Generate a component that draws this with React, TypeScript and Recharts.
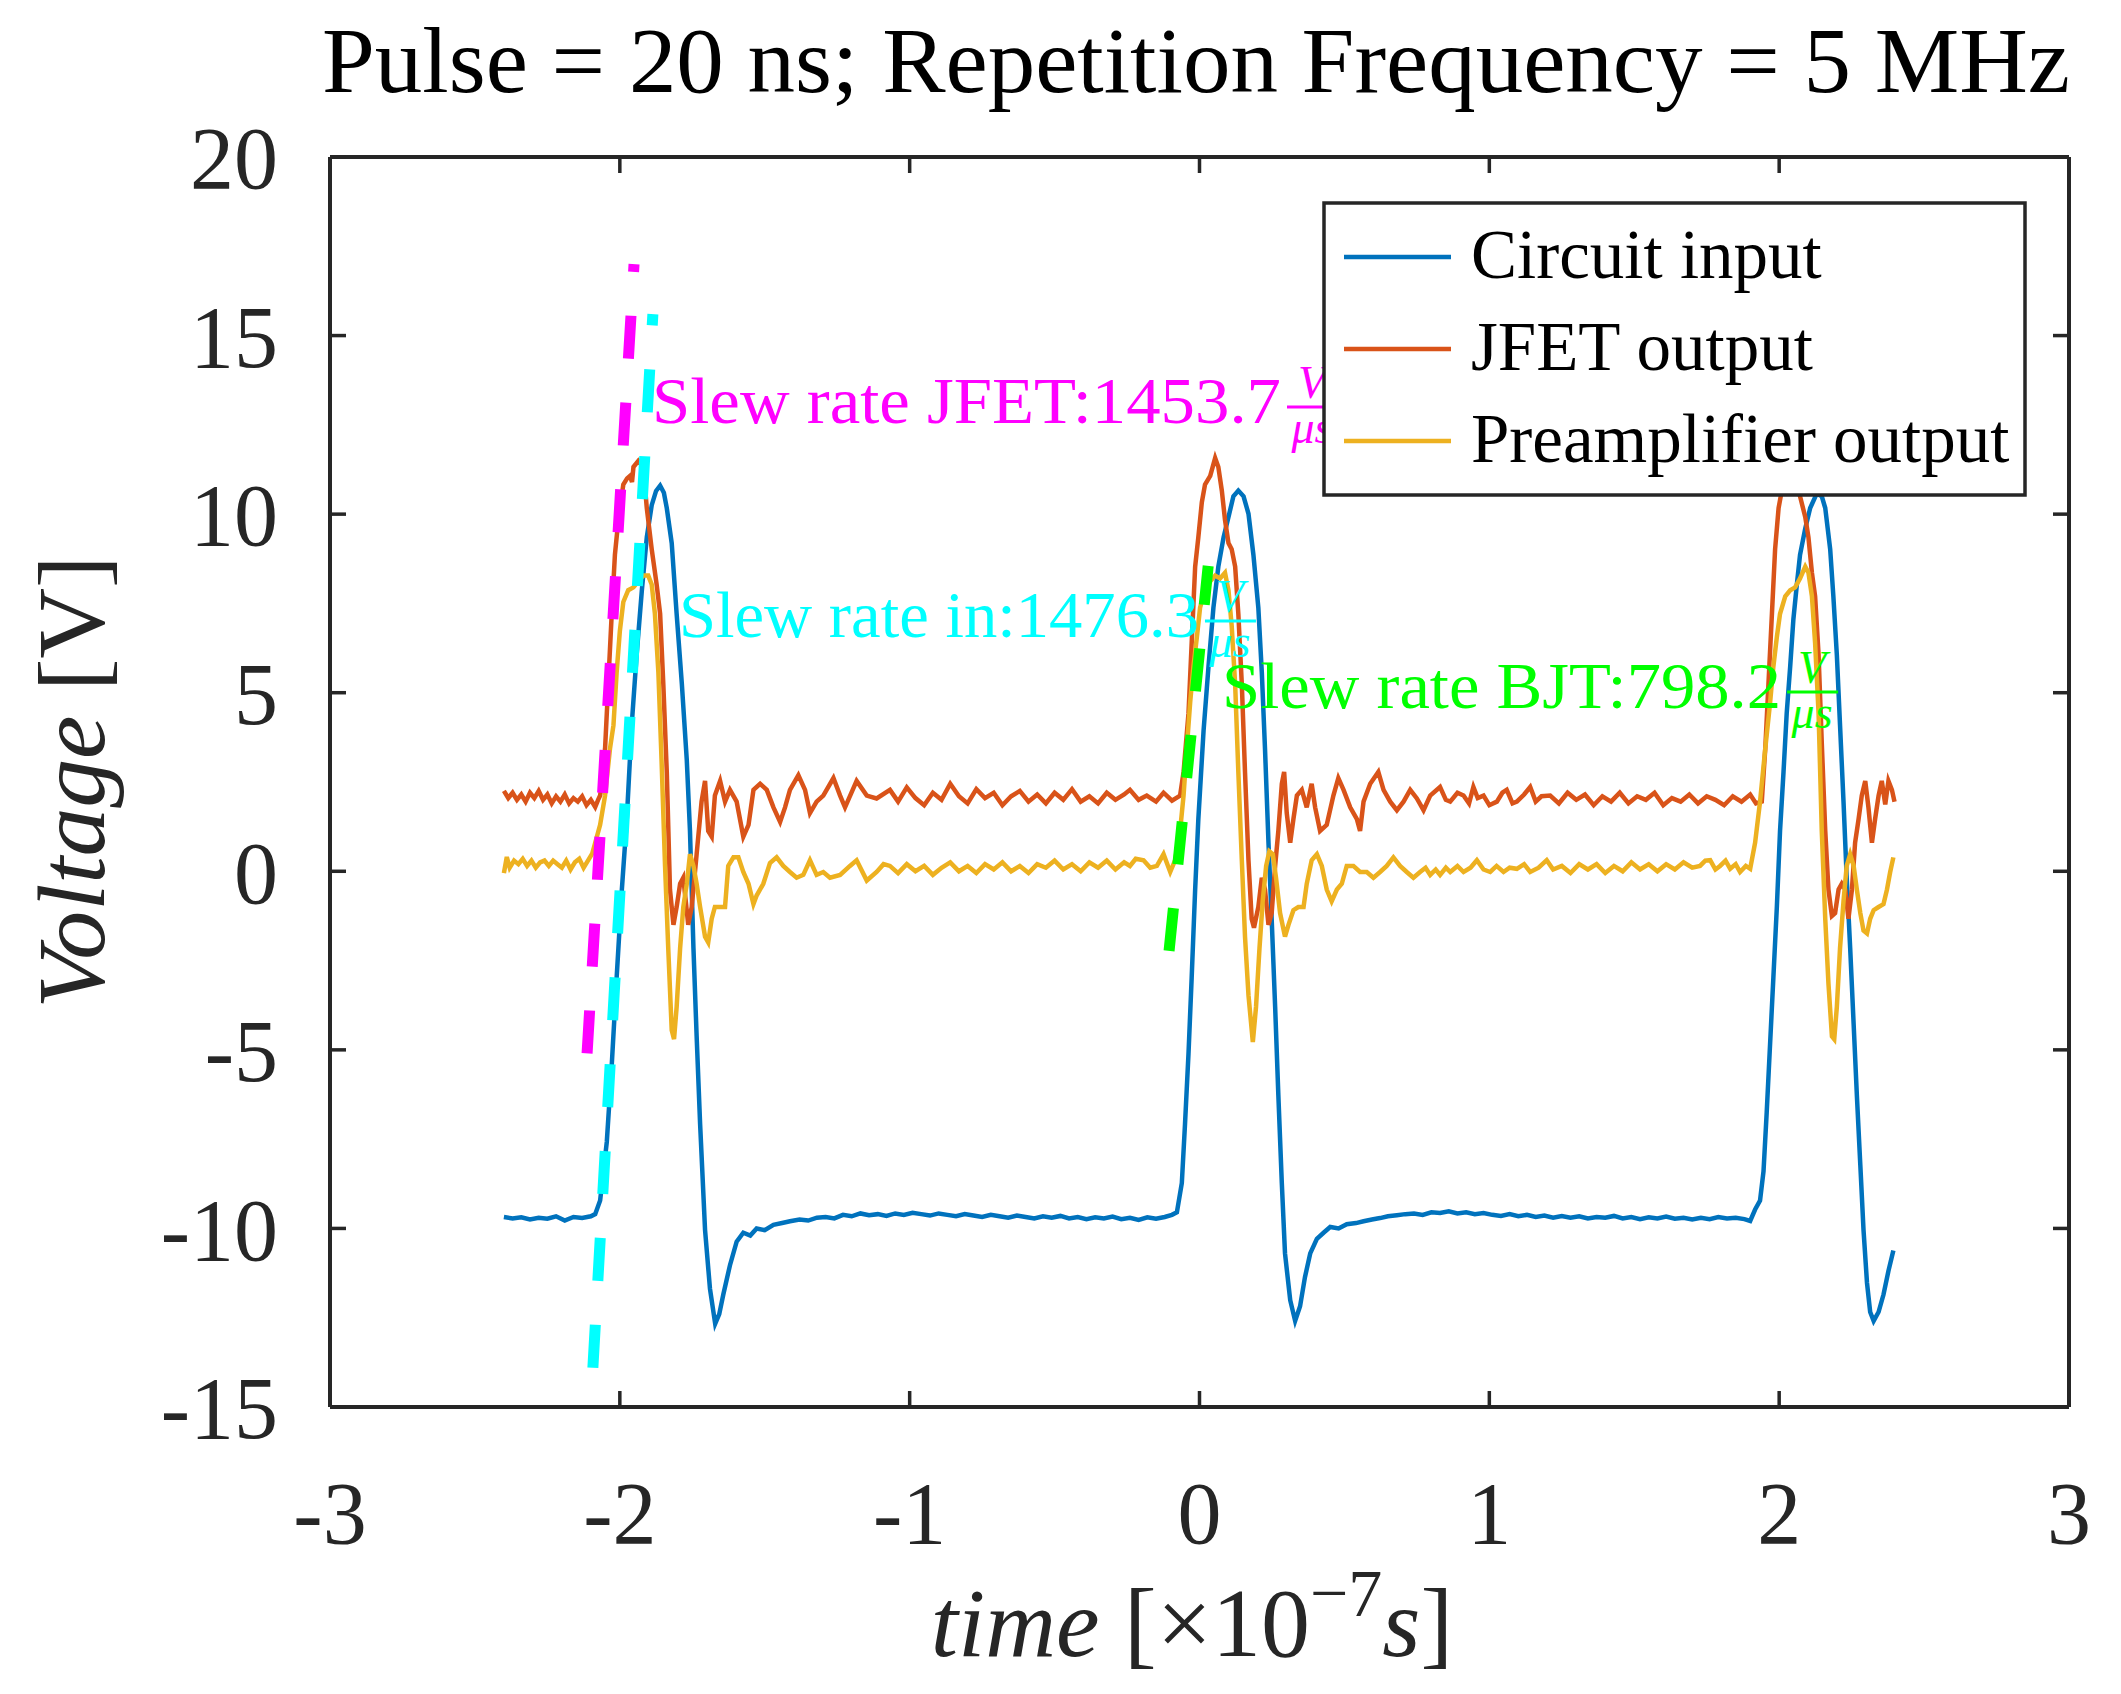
import React from 'react'
import { LineChart, Line, XAxis, YAxis, Legend, ReferenceDot } from 'recharts'

type Pt = [number, number]

// time in units of 1e-7 s, voltage in V
const timeTicks = [-3, -2, -1, 0, 1, 2, 3]
const voltTicks = [-15, -10, -5, 0, 5, 10, 15, 20]

const seriesNames = ['Circuit input', 'JFET output', 'Preamplifier output']

const circuitInput: Pt[] = [
  [-2.4, -9.68], [-2.37, -9.72], [-2.34, -9.69], [-2.31, -9.75], [-2.28, -9.7], [-2.25, -9.73],
  [-2.22, -9.66], [-2.19, -9.78], [-2.16, -9.68], [-2.13, -9.71], [-2.1, -9.66], [-2.085, -9.6],
  [-2.068, -9.22], [-2.045, -7.58], [-2.028, -5.44], [-2.011, -2.98], [-1.993, -0.51], [-1.976, 1.46],
  [-1.959, 4.09], [-1.942, 6.06], [-1.924, 7.87], [-1.907, 9.35], [-1.89, 10.25], [-1.875, 10.65],
  [-1.861, 10.8], [-1.848, 10.6], [-1.838, 10.17], [-1.821, 9.19], [-1.804, 7.21], [-1.786, 5.24],
  [-1.769, 3.11], [-1.758, 1.13], [-1.746, -2.15], [-1.735, -4.62], [-1.723, -7.08], [-1.706, -10.04],
  [-1.689, -11.69], [-1.671, -12.67], [-1.657, -12.4], [-1.643, -11.85], [-1.62, -11.03], [-1.597, -10.37],
  [-1.574, -10.12], [-1.55, -10.2], [-1.528, -10.0], [-1.5, -10.05], [-1.47, -9.9], [-1.44, -9.85],
  [-1.413, -9.8], [-1.38, -9.75], [-1.35, -9.78], [-1.32, -9.7], [-1.29, -9.68], [-1.26, -9.72],
  [-1.23, -9.62], [-1.2, -9.66], [-1.17, -9.58], [-1.14, -9.63], [-1.11, -9.6], [-1.08, -9.65],
  [-1.05, -9.58], [-1.02, -9.62], [-0.99, -9.56], [-0.96, -9.6], [-0.93, -9.64], [-0.9, -9.58],
  [-0.87, -9.62], [-0.84, -9.66], [-0.81, -9.6], [-0.78, -9.64], [-0.75, -9.68], [-0.72, -9.62],
  [-0.69, -9.66], [-0.66, -9.7], [-0.63, -9.64], [-0.6, -9.68], [-0.57, -9.72], [-0.54, -9.66],
  [-0.51, -9.7], [-0.48, -9.65], [-0.45, -9.72], [-0.42, -9.68], [-0.39, -9.74], [-0.36, -9.69],
  [-0.33, -9.72], [-0.3, -9.67], [-0.27, -9.74], [-0.24, -9.7], [-0.21, -9.76], [-0.18, -9.69],
  [-0.15, -9.73], [-0.12, -9.68], [-0.095, -9.62], [-0.078, -9.55], [-0.061, -8.73], [-0.05, -7.08],
  [-0.038, -5.11], [-0.027, -2.98], [-0.015, -0.51], [-0.004, 1.46], [0.014, 3.93], [0.031, 5.73],
  [0.048, 7.38], [0.065, 8.53], [0.083, 9.35], [0.1, 9.92], [0.117, 10.5], [0.134, 10.66],
  [0.152, 10.5], [0.169, 10.01], [0.186, 8.86], [0.203, 7.38], [0.215, 5.57], [0.226, 3.43],
  [0.238, 0.8], [0.249, -1.33], [0.261, -3.8], [0.272, -6.26], [0.284, -8.73], [0.295, -10.7],
  [0.313, -12.01], [0.33, -12.59], [0.347, -12.18], [0.364, -11.36], [0.382, -10.7], [0.405, -10.29],
  [0.428, -10.12], [0.451, -9.96], [0.48, -10.0], [0.508, -9.88], [0.54, -9.85], [0.566, -9.8],
  [0.595, -9.75], [0.623, -9.71], [0.65, -9.66], [0.681, -9.63], [0.71, -9.6], [0.74, -9.58],
  [0.77, -9.62], [0.8, -9.55], [0.83, -9.57], [0.86, -9.52], [0.89, -9.58], [0.92, -9.55],
  [0.95, -9.6], [0.98, -9.57], [1.01, -9.62], [1.04, -9.65], [1.07, -9.6], [1.1, -9.66],
  [1.13, -9.62], [1.16, -9.68], [1.19, -9.64], [1.22, -9.7], [1.25, -9.65], [1.28, -9.7],
  [1.31, -9.66], [1.34, -9.72], [1.37, -9.68], [1.4, -9.7], [1.43, -9.65], [1.46, -9.72],
  [1.49, -9.68], [1.52, -9.74], [1.55, -9.69], [1.58, -9.72], [1.61, -9.67], [1.64, -9.73],
  [1.67, -9.7], [1.7, -9.75], [1.73, -9.7], [1.76, -9.74], [1.79, -9.68], [1.82, -9.72],
  [1.85, -9.7], [1.88, -9.74], [1.9, -9.79], [1.917, -9.47], [1.934, -9.22], [1.946, -8.4],
  [1.957, -6.75], [1.969, -4.78], [1.98, -2.98], [1.992, -1.0], [2.003, 1.13], [2.015, 2.78],
  [2.026, 4.42], [2.038, 5.73], [2.049, 7.05], [2.061, 8.03], [2.072, 8.86], [2.09, 9.6],
  [2.107, 10.17], [2.13, 10.58], [2.147, 10.5], [2.159, 10.17], [2.176, 9.02], [2.187, 7.7],
  [2.199, 6.06], [2.21, 4.09], [2.222, 1.95], [2.233, -0.18], [2.245, -2.15], [2.257, -4.29],
  [2.268, -6.26], [2.28, -8.23], [2.291, -10.04], [2.303, -11.52], [2.314, -12.34], [2.326, -12.59],
  [2.343, -12.34], [2.36, -11.85], [2.377, -11.19], [2.394, -10.62],
]

const jfetOutput: Pt[] = [
  [-2.4, 2.25], [-2.385, 2.05], [-2.37, 2.2], [-2.355, 2.0], [-2.34, 2.15], [-2.325, 1.95],
  [-2.31, 2.2], [-2.295, 2.05], [-2.28, 2.25], [-2.265, 2.0], [-2.25, 2.15], [-2.235, 1.9],
  [-2.22, 2.1], [-2.205, 1.95], [-2.19, 2.15], [-2.175, 1.9], [-2.16, 2.05], [-2.145, 1.95],
  [-2.13, 2.1], [-2.115, 1.85], [-2.1, 2.0], [-2.085, 1.8], [-2.075, 2.0], [-2.068, 2.12],
  [-2.06, 2.6], [-2.051, 3.43], [-2.04, 5.24], [-2.028, 7.21], [-2.017, 8.86], [-2.005, 9.84],
  [-1.988, 10.83], [-1.975, 11.0], [-1.965, 11.07], [-1.958, 10.9], [-1.953, 11.32], [-1.936, 11.49],
  [-1.919, 11.32], [-1.907, 10.17], [-1.89, 9.02], [-1.873, 8.03], [-1.861, 7.21], [-1.85, 5.24],
  [-1.838, 2.78], [-1.827, -0.51], [-1.815, -1.5], [-1.804, -1.0], [-1.792, -0.35], [-1.781, -0.18],
  [-1.764, -1.5], [-1.752, -1.0], [-1.735, 0.48], [-1.718, 1.95], [-1.706, 2.53], [-1.695, 1.13],
  [-1.683, 0.97], [-1.672, 2.12], [-1.654, 2.53], [-1.637, 1.95], [-1.62, 2.28], [-1.597, 1.95],
  [-1.574, 0.97], [-1.556, 1.3], [-1.539, 2.28], [-1.516, 2.45], [-1.493, 2.28], [-1.47, 1.79],
  [-1.447, 1.38], [-1.43, 1.79], [-1.413, 2.28], [-1.384, 2.69], [-1.361, 2.28], [-1.344, 1.63],
  [-1.321, 1.95], [-1.298, 2.12], [-1.263, 2.61], [-1.24, 2.12], [-1.223, 1.79], [-1.183, 2.53],
  [-1.148, 2.12], [-1.114, 2.04], [-1.068, 2.28], [-1.04, 1.95], [-1.01, 2.35], [-0.98, 2.05],
  [-0.95, 1.85], [-0.92, 2.2], [-0.89, 2.0], [-0.86, 2.45], [-0.83, 2.1], [-0.8, 1.9],
  [-0.77, 2.3], [-0.74, 2.05], [-0.71, 2.2], [-0.68, 1.85], [-0.65, 2.1], [-0.62, 2.25],
  [-0.59, 1.95], [-0.56, 2.15], [-0.53, 1.9], [-0.5, 2.2], [-0.47, 2.0], [-0.44, 2.3],
  [-0.41, 1.95], [-0.38, 2.1], [-0.35, 1.9], [-0.32, 2.2], [-0.29, 2.0], [-0.26, 2.15],
  [-0.24, 2.28], [-0.21, 2.0], [-0.182, 2.12], [-0.15, 1.95], [-0.124, 2.2], [-0.095, 1.98],
  [-0.067, 2.12], [-0.055, 2.78], [-0.038, 4.42], [-0.027, 6.39], [-0.015, 8.53], [-0.004, 9.35],
  [0.008, 10.33], [0.019, 10.83], [0.037, 11.07], [0.054, 11.57], [0.065, 11.32], [0.077, 10.66],
  [0.088, 9.84], [0.1, 9.19], [0.111, 9.02], [0.123, 8.53], [0.134, 7.21], [0.146, 5.24],
  [0.157, 2.78], [0.169, 0.31], [0.18, -1.33], [0.188, -1.58], [0.203, -1.0], [0.215, -0.18],
  [0.226, -0.51], [0.238, -1.5], [0.249, -1.17], [0.261, 0.15], [0.272, 1.13], [0.284, 2.45],
  [0.292, 2.78], [0.301, 1.63], [0.313, 0.8], [0.324, 1.46], [0.336, 2.12], [0.353, 2.28],
  [0.37, 1.79], [0.387, 2.45], [0.399, 1.79], [0.416, 1.13], [0.439, 1.3], [0.462, 2.12],
  [0.479, 2.61], [0.497, 2.28], [0.52, 1.79], [0.543, 1.46], [0.554, 1.13], [0.566, 1.95],
  [0.589, 2.45], [0.617, 2.78], [0.635, 2.28], [0.658, 1.95], [0.681, 1.71], [0.704, 1.95],
  [0.727, 2.28], [0.75, 2.04], [0.773, 1.71], [0.796, 2.12], [0.83, 2.36], [0.85, 2.0],
  [0.865, 1.95], [0.89, 2.2], [0.911, 2.12], [0.93, 1.9], [0.945, 2.36], [0.96, 2.05],
  [0.98, 2.12], [1.0, 1.85], [1.026, 1.95], [1.045, 2.2], [1.06, 2.28], [1.08, 1.9],
  [1.095, 1.95], [1.12, 2.15], [1.141, 2.36], [1.16, 1.95], [1.18, 2.1], [1.21, 2.12],
  [1.24, 1.9], [1.27, 2.2], [1.3, 2.0], [1.33, 2.15], [1.36, 1.85], [1.39, 2.1],
  [1.42, 1.95], [1.45, 2.2], [1.48, 1.9], [1.51, 2.1], [1.54, 2.0], [1.57, 2.2],
  [1.6, 1.85], [1.63, 2.05], [1.66, 1.95], [1.69, 2.15], [1.72, 1.9], [1.75, 2.1],
  [1.78, 2.0], [1.81, 1.85], [1.84, 2.1], [1.87, 1.95], [1.9, 2.15], [1.92, 1.9],
  [1.94, 1.95], [1.952, 3.43], [1.963, 5.24], [1.975, 7.21], [1.986, 9.02], [1.998, 10.17],
  [2.009, 10.66], [2.026, 11.3], [2.044, 11.2], [2.061, 10.8], [2.072, 10.5], [2.09, 9.92],
  [2.101, 9.35], [2.113, 8.36], [2.124, 7.7], [2.136, 6.06], [2.147, 3.6], [2.159, 1.13],
  [2.17, -0.51], [2.182, -1.25], [2.193, -1.17], [2.205, -0.51], [2.216, -0.35], [2.228, -0.51],
  [2.239, -1.33], [2.251, -0.51], [2.262, 0.8], [2.274, 1.46], [2.285, 2.12], [2.297, 2.53],
  [2.308, 1.79], [2.32, 0.8], [2.331, 1.46], [2.343, 2.12], [2.354, 2.53], [2.366, 1.87],
  [2.377, 2.53], [2.389, 2.28], [2.398, 1.95],
]

const preampOutput: Pt[] = [
  [-2.4, -0.05], [-2.39, 0.4], [-2.38, 0.1], [-2.365, 0.3], [-2.35, 0.2], [-2.335, 0.35],
  [-2.32, 0.15], [-2.305, 0.3], [-2.29, 0.1], [-2.275, 0.25], [-2.26, 0.3], [-2.245, 0.15],
  [-2.23, 0.3], [-2.215, 0.2], [-2.2, 0.1], [-2.185, 0.3], [-2.17, 0.05], [-2.155, 0.25],
  [-2.14, 0.35], [-2.125, 0.1], [-2.11, 0.3], [-2.095, 0.5], [-2.085, 0.8], [-2.068, 1.3],
  [-2.051, 2.12], [-2.034, 3.43], [-2.022, 4.09], [-2.011, 5.57], [-2.0, 6.72], [-1.988, 7.54],
  [-1.971, 7.87], [-1.953, 7.95], [-1.936, 8.12], [-1.919, 8.28], [-1.902, 8.28], [-1.89, 8.03],
  [-1.879, 7.21], [-1.867, 5.57], [-1.856, 3.1], [-1.844, 0.15], [-1.833, -2.15], [-1.821, -4.45],
  [-1.813, -4.7], [-1.804, -3.8], [-1.792, -2.15], [-1.781, -1.0], [-1.769, -0.35], [-1.758, 0.48],
  [-1.746, 0.15], [-1.735, -0.35], [-1.723, -1.0], [-1.706, -1.83], [-1.695, -1.99], [-1.683, -1.33],
  [-1.672, -1.0], [-1.654, -1.0], [-1.637, -1.0], [-1.626, 0.15], [-1.608, 0.39], [-1.591, 0.39],
  [-1.574, -0.02], [-1.556, -0.35], [-1.539, -0.92], [-1.528, -0.68], [-1.505, -0.35], [-1.482, 0.23],
  [-1.459, 0.39], [-1.436, 0.15], [-1.413, -0.02], [-1.39, -0.18], [-1.367, -0.1], [-1.344, 0.31],
  [-1.321, -0.1], [-1.298, -0.02], [-1.275, -0.18], [-1.24, -0.1], [-1.206, 0.15], [-1.183, 0.31],
  [-1.148, -0.26], [-1.114, -0.02], [-1.09, 0.2], [-1.068, 0.15], [-1.04, -0.05], [-1.01, 0.2],
  [-0.98, 0.0], [-0.95, 0.15], [-0.92, -0.1], [-0.89, 0.1], [-0.86, 0.25], [-0.83, 0.0],
  [-0.8, 0.15], [-0.77, -0.05], [-0.74, 0.2], [-0.71, 0.05], [-0.68, 0.25], [-0.65, 0.0],
  [-0.62, 0.15], [-0.59, -0.05], [-0.56, 0.2], [-0.53, 0.1], [-0.5, 0.3], [-0.47, 0.05],
  [-0.44, 0.2], [-0.41, 0.0], [-0.38, 0.25], [-0.35, 0.1], [-0.32, 0.3], [-0.29, 0.05],
  [-0.26, 0.25], [-0.24, 0.15], [-0.22, 0.35], [-0.193, 0.31], [-0.17, 0.1], [-0.147, 0.15],
  [-0.124, 0.48], [-0.101, -0.02], [-0.084, 0.31], [-0.067, 1.13], [-0.055, 2.12], [-0.044, 3.43],
  [-0.032, 4.75], [-0.021, 5.73], [-0.009, 6.56], [0.002, 7.38], [0.019, 7.87], [0.037, 8.12],
  [0.054, 8.28], [0.071, 8.2], [0.088, 8.36], [0.1, 7.87], [0.111, 6.88], [0.123, 5.24],
  [0.134, 2.78], [0.146, 0.31], [0.157, -1.83], [0.169, -3.47], [0.184, -4.78], [0.195, -3.8],
  [0.207, -2.15], [0.218, -0.84], [0.23, 0.15], [0.241, 0.56], [0.253, 0.48], [0.264, -0.18],
  [0.278, -1.17], [0.295, -1.83], [0.307, -1.5], [0.324, -1.09], [0.341, -1.0], [0.359, -1.0],
  [0.37, -0.35], [0.387, 0.31], [0.405, 0.48], [0.422, 0.15], [0.439, -0.51], [0.456, -0.84],
  [0.474, -0.51], [0.491, -0.35], [0.508, 0.15], [0.531, 0.15], [0.554, -0.02], [0.577, -0.02],
  [0.6, -0.18], [0.623, -0.02], [0.646, 0.15], [0.669, 0.39], [0.692, 0.15], [0.715, -0.02],
  [0.738, -0.18], [0.761, -0.02], [0.78, 0.1], [0.796, -0.1], [0.815, 0.05], [0.83, -0.1],
  [0.85, 0.1], [0.865, -0.02], [0.89, 0.15], [0.911, -0.02], [0.935, 0.1], [0.957, 0.31],
  [0.98, 0.05], [1.003, -0.02], [1.025, 0.15], [1.049, -0.02], [1.07, 0.1], [1.095, 0.07],
  [1.12, 0.2], [1.141, -0.02], [1.17, 0.1], [1.198, 0.31], [1.22, 0.05], [1.25, 0.15],
  [1.28, -0.05], [1.31, 0.2], [1.34, 0.05], [1.37, 0.2], [1.4, -0.05], [1.43, 0.15],
  [1.46, 0.0], [1.49, 0.25], [1.52, 0.05], [1.55, 0.2], [1.58, 0.0], [1.61, 0.2],
  [1.64, 0.05], [1.67, 0.25], [1.7, 0.1], [1.727, 0.15], [1.745, 0.3], [1.762, 0.31],
  [1.78, 0.05], [1.796, 0.15], [1.815, 0.3], [1.831, 0.07], [1.85, 0.2], [1.865, -0.02],
  [1.885, 0.15], [1.9, 0.07], [1.917, 0.8], [1.934, 1.95], [1.952, 3.43], [1.969, 4.75],
  [1.98, 5.73], [1.992, 6.56], [2.003, 7.21], [2.021, 7.7], [2.038, 7.87], [2.055, 7.95],
  [2.072, 8.2], [2.09, 8.53], [2.101, 8.36], [2.113, 7.7], [2.124, 6.39], [2.136, 4.42],
  [2.147, 1.13], [2.159, -1.33], [2.17, -3.14], [2.182, -4.62], [2.19, -4.7], [2.199, -3.8],
  [2.21, -2.15], [2.222, -0.84], [2.233, 0.15], [2.245, 0.48], [2.257, 0.15], [2.268, -0.51],
  [2.28, -1.17], [2.291, -1.66], [2.303, -1.74], [2.314, -1.33], [2.326, -1.09], [2.343, -1.0],
  [2.36, -0.92], [2.372, -0.51], [2.383, -0.02], [2.394, 0.39],
]

// slew-rate fit lines, listed from the low end up (dash phase starts there)
const slewJfet: Pt[] = [[-2.113, -5.1], [-1.951, 17.0]]
const slewIn: Pt[] = [[-2.093, -13.9], [-1.886, 15.6]]
const slewBjt: Pt[] = [[-0.105, -2.23], [0.03, 8.55]]

const slewNames = ['JFET', 'in', 'BJT']
const slewRates = [1453.7, 1476.3, 798.2]

const FONT = '"Liberation Serif", "Times New Roman", serif'
const AXIS = '#262626'
const seriesColors = ['#0072BD', '#D95319', '#EDB120']
const slewColors = ['#FF00FF', '#00FFFF', '#00FF00']

// where each slew label starts (baseline, left) in data units, and its text width
const slewLabelPos = [
  { t: -1.889, v: 12.55, width: 629 },
  { t: -1.796, v: 6.56, width: 520 },
  { t: 0.078, v: 4.57, width: 559 },
]

const toRows = (pts: Pt[]) => pts.map(([t, v]) => ({ t, v }))

const traces = [circuitInput, jfetOutput, preampOutput].map(toRows)
const slewLines = [slewJfet, slewIn, slewBjt].map(toRows)

const EmptyTick = () => null

function SlewLabel({ viewBox, text, color, width }: any) {
  const x = viewBox?.x ?? 0
  const y = viewBox?.y ?? 0
  const fx = x + width + 6
  return (
    <g fontFamily={FONT} fill={color}>
      <text x={x} y={y} fontSize={66} textLength={width} lengthAdjust="spacingAndGlyphs">
        {text}
      </text>
      <text x={fx + 25} y={y - 25} fontSize={46} fontStyle="italic" textAnchor="middle">
        V
      </text>
      <line x1={fx} x2={fx + 51} y1={y - 16} y2={y - 16} stroke={color} strokeWidth={3} />
      <text x={fx + 25} y={y + 20} fontSize={46} fontStyle="italic" textAnchor="middle">
        μs
      </text>
    </g>
  )
}

function LegendBox() {
  return (
    <svg width={705} height={296} style={{ display: 'block' }}>
      <rect x={2} y={2} width={701} height={292} fill="#fff" stroke={AXIS} strokeWidth={3.5} />
      {seriesNames.map((name, i) => (
        <g key={name}>
          <line x1={22} x2={129} y1={56 + 92 * i} y2={56 + 92 * i} stroke={seriesColors[i]} strokeWidth={4.5} />
          <text x={149} y={77 + 92 * i} fontSize={69} fontFamily={FONT} fill="#000">
            {name}
          </text>
        </g>
      ))}
    </svg>
  )
}

export default function App() {
  const tickStyle = { fontSize: 88, fontFamily: FONT, fill: AXIS }
  const axisLine = { stroke: AXIS, strokeWidth: 4 }
  const tickLine = { stroke: AXIS, strokeWidth: 3.5 }

  return (
    <div style={{ position: 'absolute', left: 0, top: 0, width: 2121, height: 1694, background: '#fff' }}>
      <LineChart width={2121} height={1694} margin={{ top: 156, right: 51, bottom: 167, left: 180 }}>
        <XAxis
          type="number"
          dataKey="t"
          domain={[-3, 3]}
          ticks={timeTicks}
          height={120}
          tick={tickStyle}
          tickSize={-16}
          tickMargin={90}
          axisLine={axisLine}
          tickLine={tickLine}
          allowDataOverflow
        />
        <XAxis
          xAxisId="top"
          orientation="top"
          type="number"
          dataKey="t"
          domain={[-3, 3]}
          ticks={timeTicks}
          height={1}
          tick={<EmptyTick />}
          tickSize={-16}
          axisLine={axisLine}
          tickLine={tickLine}
          allowDataOverflow
        />
        <YAxis
          type="number"
          domain={[-15, 20]}
          ticks={voltTicks}
          width={150}
          tick={tickStyle}
          tickSize={-16}
          tickMargin={68}
          axisLine={axisLine}
          tickLine={tickLine}
          allowDataOverflow
        />
        <YAxis
          yAxisId="right"
          orientation="right"
          type="number"
          domain={[-15, 20]}
          ticks={voltTicks}
          width={1}
          tick={<EmptyTick />}
          tickSize={-16}
          axisLine={axisLine}
          tickLine={tickLine}
          allowDataOverflow
        />
        {traces.map((rows, i) => (
          <Line
            key={seriesNames[i]}
            data={rows}
            dataKey="v"
            name={seriesNames[i]}
            type="linear"
            stroke={seriesColors[i]}
            strokeWidth={4.5}
            dot={false}
            activeDot={false}
            isAnimationActive={false}
          />
        ))}
        {slewLines.map((rows, i) => (
          <Line
            key={`slew-${slewNames[i]}`}
            data={rows}
            dataKey="v"
            type="linear"
            stroke={slewColors[i]}
            strokeWidth={11}
            strokeDasharray="43 44"
            dot={false}
            activeDot={false}
            legendType="none"
            isAnimationActive={false}
          />
        ))}
        {slewLabelPos.map((p, i) => (
          <ReferenceDot
            key={`lbl-${slewNames[i]}`}
            x={p.t}
            y={p.v}
            r={0}
            fill="none"
            stroke="none"
            ifOverflow="visible"
            label={(props: any) => (
              <SlewLabel
                viewBox={props.viewBox}
                text={`Slew rate ${slewNames[i]}:${slewRates[i]}`}
                color={slewColors[i]}
                width={p.width}
              />
            )}
          />
        ))}
        <Legend
          layout="vertical"
          align="center"
          verticalAlign="middle"
          content={() => <LegendBox />}
          wrapperStyle={{ position: 'absolute', left: 1322, top: 201, width: 705, height: 296 }}
        />
      </LineChart>
      <svg
        width={2121}
        height={1694}
        style={{ position: 'absolute', left: 0, top: 0, pointerEvents: 'none' }}
        fontFamily={FONT}
        fill="#000"
      >
        <text x={1196} y={92} fontSize={94} textAnchor="middle" textLength={1748} lengthAdjust="spacingAndGlyphs">
          Pulse = 20 ns; Repetition Frequency = 5 MHz
        </text>
        <text x={1192} y={1656} fontSize={98} textAnchor="middle" fill={AXIS}>
          <tspan fontStyle="italic">time</tspan>
          <tspan> [×10</tspan>
          <tspan fontSize={68} dy={-40}>−7</tspan>
          <tspan fontStyle="italic" dy={40}>s</tspan>
          <tspan>]</tspan>
        </text>
        <text
          x={104}
          y={782}
          fontSize={95}
          textAnchor="middle"
          fill={AXIS}
          transform="rotate(-90 104 782)"
          textLength={453}
          lengthAdjust="spacingAndGlyphs"
        >
          <tspan fontStyle="italic">Voltage</tspan>
          <tspan> [V]</tspan>
        </text>
      </svg>
    </div>
  )
}
